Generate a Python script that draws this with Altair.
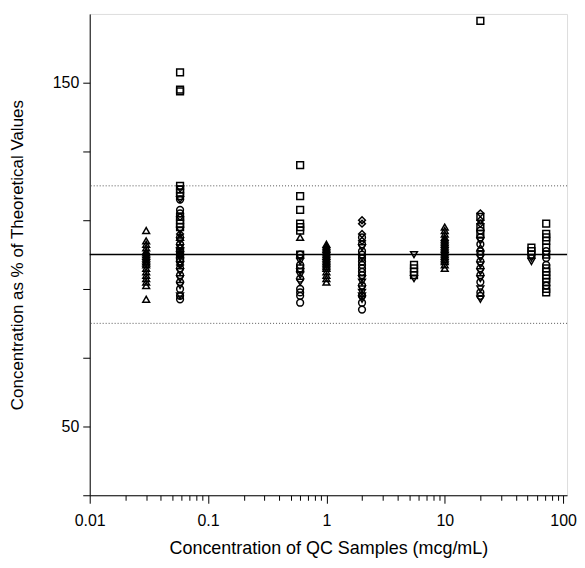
import altair as alt
import pandas as pd

# Nominal QC concentrations (mcg/mL)
conc_levels = [0.03, 0.058, 0.6, 1.0, 2.0, 5.5, 10.0, 20.0, 54.0, 72.0]

# Recovered concentration as % of theoretical, per level and symbol
l1_tri_up = [107, 104, 103, 102, 101, 100.5, 100, 99.5, 99, 98.5, 98, 97.5, 97, 96, 95, 94, 93, 92, 91, 87]
l2_square = [153, 148, 147.5, 120, 119, 118, 117, 111, 110, 109, 108, 101, 99]
l2_circle = [116, 113, 112, 105, 103, 98, 96, 94, 92, 90, 88, 87]
l2_tri_down = [119, 116, 107, 104, 102, 101, 100, 99, 97, 95, 93, 91, 88]
l2_diamond = [111, 106, 102, 100, 97]
l2_tri_up = [105, 100]
l3_square = [126, 117, 113, 109, 108, 107, 100, 96]
l3_tri_up = [105]
l3_circle = [100, 97, 93, 90, 89, 88, 86]
l3_tri_down = [99, 98, 95, 94, 92]
l4_tri_up = [103, 102.5, 102, 101.5, 101, 100.5, 100, 99.5, 99, 98.5, 98, 97.5, 97, 96.5, 96, 95, 94, 93, 92]
l5_diamond = [110, 109, 106, 104]
l5_circle = [105, 103, 101, 100, 99, 98, 97, 96, 95, 94, 91, 88, 86, 84]
l5_tri_down = [102, 99, 93, 92, 90, 89, 88, 87]
l6_square = [97, 96, 95, 94]
l6_tri_down = [100, 93]
l7_tri_up = [108, 107, 106, 105, 104.5, 104, 103.5, 103, 102.5, 102, 101.5, 101, 100.5, 100, 99.5, 99, 98.5, 98, 97, 96]
l8_diamond = [112, 110, 109]
l8_square = [168, 111, 108, 106]
l8_circle = [107, 105, 103, 101, 100, 98, 96, 94, 92, 89, 88]
l8_tri_down = [104, 99, 97, 95, 93, 90, 87]
l8_tri_up = [102]
l9_square = [102, 101, 100]
l9_tri_down = [99, 98]
l10_square = [109, 106, 105, 104, 102, 100, 96, 95, 94, 93, 92, 90, 89]
l10_circle = [101, 99, 97, 91]

# Reference lines
limit_lines = [80, 120]
nominal_line = [100]

# Axis tick values
x_ticks = [0.01, 0.02, 0.03, 0.04, 0.05, 0.06, 0.07, 0.08, 0.09,
           0.1, 0.2, 0.3, 0.4, 0.5, 0.6, 0.7, 0.8, 0.9,
           1, 2, 3, 4, 5, 6, 7, 8, 9,
           10, 20, 30, 40, 50, 60, 70, 80, 90, 100]
y_ticks = [30, 40, 50, 60, 70, 80, 90, 100, 110, 120, 130, 140, 150, 160]

groups = [
    (conc_levels[0], "tri_up", l1_tri_up),
    (conc_levels[1], "square", l2_square),
    (conc_levels[1], "circle", l2_circle),
    (conc_levels[1], "tri_down", l2_tri_down),
    (conc_levels[1], "diamond", l2_diamond),
    (conc_levels[1], "tri_up", l2_tri_up),
    (conc_levels[2], "square", l3_square),
    (conc_levels[2], "tri_up", l3_tri_up),
    (conc_levels[2], "circle", l3_circle),
    (conc_levels[2], "tri_down", l3_tri_down),
    (conc_levels[3], "tri_up", l4_tri_up),
    (conc_levels[4], "diamond", l5_diamond),
    (conc_levels[4], "circle", l5_circle),
    (conc_levels[4], "tri_down", l5_tri_down),
    (conc_levels[5], "square", l6_square),
    (conc_levels[5], "tri_down", l6_tri_down),
    (conc_levels[6], "tri_up", l7_tri_up),
    (conc_levels[7], "diamond", l8_diamond),
    (conc_levels[7], "square", l8_square),
    (conc_levels[7], "circle", l8_circle),
    (conc_levels[7], "tri_down", l8_tri_down),
    (conc_levels[7], "tri_up", l8_tri_up),
    (conc_levels[8], "square", l9_square),
    (conc_levels[8], "tri_down", l9_tri_down),
    (conc_levels[9], "square", l10_square),
    (conc_levels[9], "circle", l10_circle),
]

rows = []
for c, s, vals in groups:
    for v in vals:
        rows.append({"conc": c, "pct": v, "sym": s})
df = pd.DataFrame(rows)

FONT = "Liberation Sans"

x_scale = alt.Scale(type="log", domain=[0.01, 108], nice=False)
y_scale = alt.Scale(domain=[30, 170], nice=False)

major_test = "abs(log(datum.value)/LN10 - round(log(datum.value)/LN10)) < 0.000001"

points = alt.Chart(df).mark_point(filled=False, size=46, strokeWidth=1.5, color="black", opacity=1).encode(
    x=alt.X("conc:Q", scale=x_scale,
            axis=alt.Axis(values=x_ticks, title="Concentration of QC Samples (mcg/mL)",
                          labelExpr=f"({major_test}) ? datum.label : ''",
                          format="~g",
                          tickSize={"condition": {"test": major_test, "value": 8}, "value": 5},
                          grid=False, domainColor="black", tickColor="black",
                          labelFontSize=16, titleFontSize=18, labelFont=FONT, titleFont=FONT,
                          titleFontWeight="normal", labelColor="black", titleColor="black",
                          labelPadding=9, titlePadding=11, labelFlush=False, labelOverlap=False)),
    y=alt.Y("pct:Q", scale=y_scale,
            axis=alt.Axis(values=y_ticks, title="Concentration as % of Theoretical Values",
                          labelExpr="datum.value % 50 === 0 ? datum.label : ''",
                          tickSize=7, grid=False, domainColor="black", tickColor="black",
                          labelFontSize=16, titleFontSize=17, labelFont=FONT, titleFont=FONT,
                          titleFontWeight="normal", labelColor="black", titleColor="black",
                          labelPadding=4, titlePadding=26, labelOverlap=False)),
    shape=alt.Shape("sym:N",
                    scale=alt.Scale(domain=["tri_up", "square", "circle", "diamond", "tri_down"],
                                    range=["triangle-up", "square", "circle", "diamond", "triangle-down"]),
                    legend=None),
)

dotted = alt.Chart(pd.DataFrame({"y": limit_lines})).mark_rule(
    color="#555555", strokeWidth=1, strokeDash=[1, 2]).encode(y=alt.Y("y:Q", scale=y_scale))
solid = alt.Chart(pd.DataFrame({"y": nominal_line})).mark_rule(
    color="black", strokeWidth=1.5).encode(y=alt.Y("y:Q", scale=y_scale))

chart = alt.layer(dotted, solid, points).properties(
    width=479, height=483, padding={"left": 0, "top": 5, "right": 0, "bottom": 0}
).configure_view(stroke="black", strokeWidth=1).configure(background="white")

chart.save("out.html", embed_options={"renderer": "svg", "actions": False})
